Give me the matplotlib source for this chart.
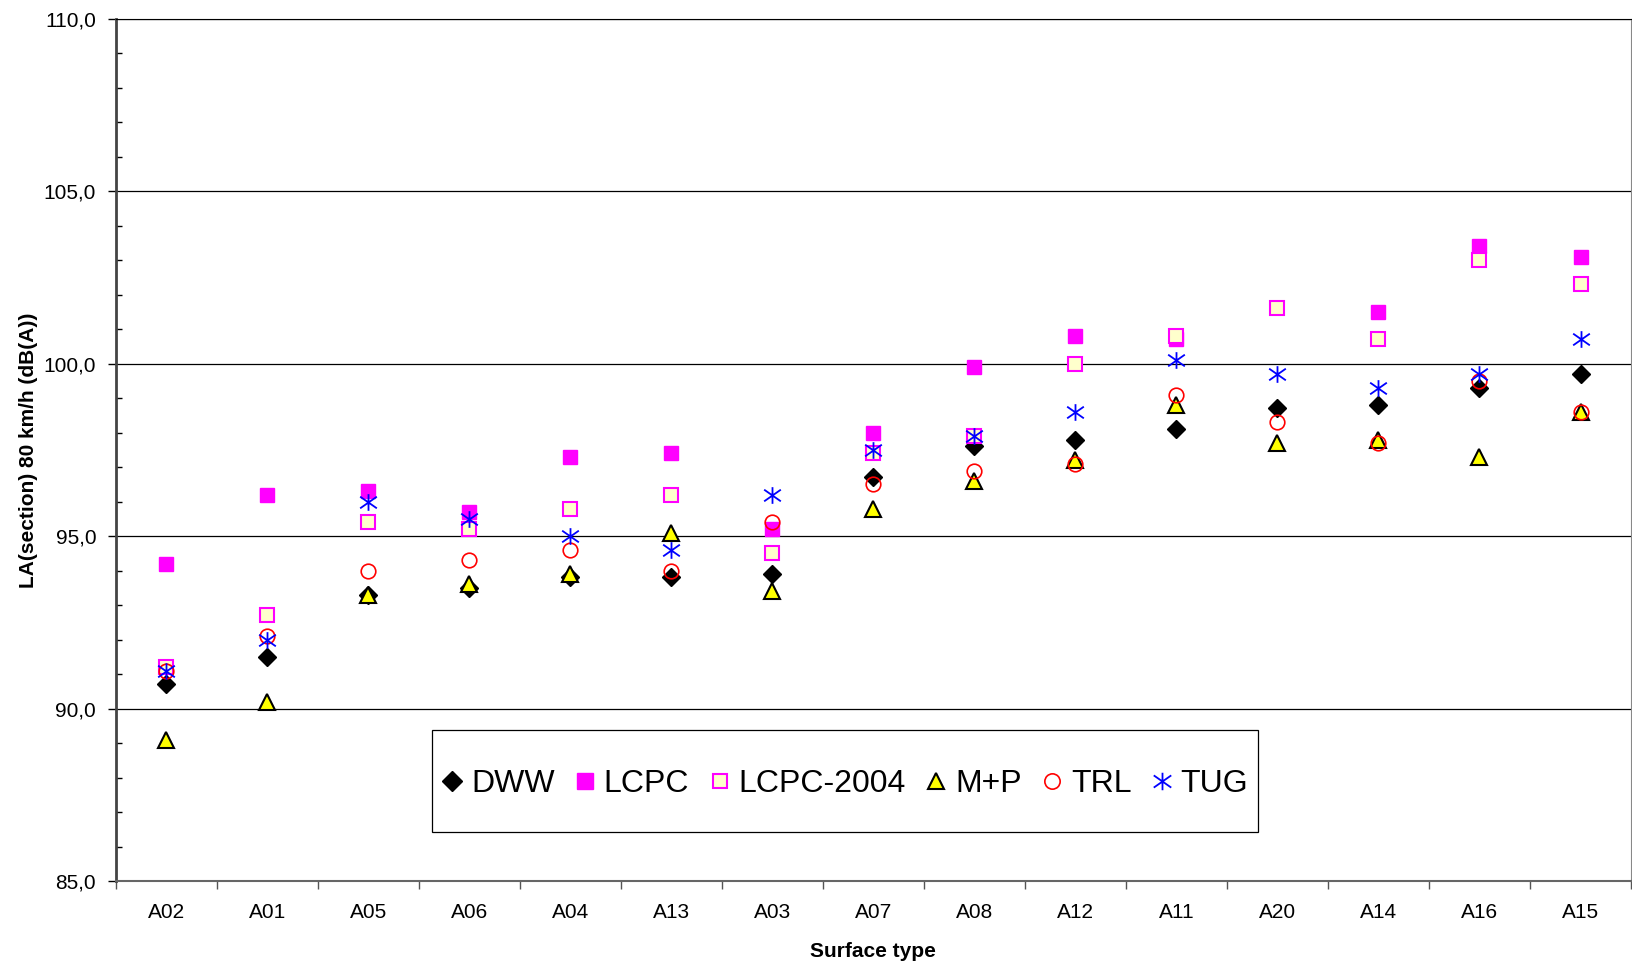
import matplotlib.pyplot as plt
from matplotlib.path import Path
from matplotlib.patches import Rectangle
from matplotlib.ticker import MultipleLocator, FixedLocator, FuncFormatter
import numpy as np

plt.rcParams['font.family'] = ['Liberation Sans', 'DejaVu Sans']

# surface types along the x axis
surfaces = ['A02', 'A01', 'A05', 'A06', 'A04', 'A13', 'A03', 'A07',
            'A08', 'A12', 'A11', 'A20', 'A14', 'A16', 'A15']

# LA(section) 80 km/h per institute
dww = [90.7, 91.5, 93.3, 93.5, 93.8, 93.8, 93.9, 96.7, 97.6, 97.8, 98.1, 98.7, 98.8, 99.3, 99.7]
lcpc = [94.2, 96.2, 96.3, 95.7, 97.3, 97.4, 95.2, 98.0, 99.9, 100.8, 100.7, np.nan, 101.5, 103.4, 103.1]
lcpc_2004 = [91.2, 92.7, 95.4, 95.2, 95.8, 96.2, 94.5, 97.4, 97.9, 100.0, 100.8, 101.6, 100.7, 103.0, 102.3]
mp = [89.1, 90.2, 93.3, 93.6, 93.9, 95.1, 93.4, 95.8, 96.6, 97.2, 98.8, 97.7, 97.8, 97.3, 98.6]
trl = [91.1, 92.1, 94.0, 94.3, 94.6, 94.0, 95.4, 96.5, 96.9, 97.1, 99.1, 98.3, 97.7, 99.5, 98.6]
tug = [91.1, 92.0, 96.0, 95.5, 95.0, 94.6, 96.2, 97.5, 97.9, 98.6, 100.1, 99.7, 99.3, 99.7, 100.7]

# Excel style star: vertical bar plus an X
star = Path([(0, -1), (0, 1), (-1, -0.7), (1, 0.7), (-1, 0.7), (1, -0.7)],
            [Path.MOVETO, Path.LINETO, Path.MOVETO, Path.LINETO, Path.MOVETO, Path.LINETO])

fig = plt.figure(figsize=(16.33, 9.63), dpi=100)
ax = fig.add_axes([0.0708, 0.0851, 0.928, 0.8955])

x = np.arange(len(surfaces))
ax.plot(x, dww, ls='none', marker='D', ms=9.5, mfc='black', mec='black', label='DWW')
ax.plot(x, lcpc, ls='none', marker='s', ms=10.5, mfc='#ff00ff', mec='#ff00ff', label='LCPC')
ax.plot(x, lcpc_2004, ls='none', marker='s', ms=10, mfc='#ffffcc', mec='#ff00ff', mew=1.5, label='LCPC-2004')
ax.plot(x, mp, ls='none', marker='^', ms=11.5, mfc='#ffff00', mec='black', mew=1.5, label='M+P')
ax.plot(x, trl, ls='none', marker='o', ms=10.5, mfc='none', mec='red', mew=1.2, label='TRL')
ax.plot(x, tug, ls='none', marker=star, ms=12, mfc='none', mec='blue', mew=1.3, label='TUG')

ax.set_xlim(-0.5, len(surfaces) - 0.5)
ax.set_ylim(85, 110)
ax.yaxis.set_major_locator(MultipleLocator(5))
ax.yaxis.set_minor_locator(MultipleLocator(1))
ax.yaxis.set_major_formatter(FuncFormatter(lambda v, p: f'{v:.1f}'.replace('.', ',')))
ax.grid(axis='y', which='major', color='black', lw=0.9)
ax.set_axisbelow(True)

ax.set_xticks(x)
ax.set_xticklabels(surfaces)
ax.xaxis.set_minor_locator(FixedLocator(np.arange(-0.5, len(surfaces), 1)))
ax.tick_params(axis='x', which='major', length=0, pad=16, labelsize=15)
ax.tick_params(axis='x', which='minor', length=6, width=1, color='#555555', direction='out')
ax.tick_params(axis='y', which='major', length=6, width=1, direction='out', pad=8, labelsize=15)
ax.tick_params(axis='y', which='minor', length=4, width=1, direction='in')

for s in ['top', 'right']:
    ax.spines[s].set_color('#888888')
    ax.spines[s].set_linewidth(0.8)
ax.spines['top'].set_color('black')
ax.spines['left'].set_color('#444444')
ax.spines['left'].set_linewidth(2)
ax.spines['bottom'].set_color('#666666')
ax.spines['bottom'].set_linewidth(1.5)

ax.set_xlabel('Surface type', fontsize=15, fontweight='bold', labelpad=14)
ax.set_ylabel('LA(section) 80 km/h (dB(A))', fontsize=15, fontweight='bold', labelpad=4)

# legend box drawn separately (Excel box has more vertical than horizontal padding)
ax.add_patch(Rectangle((0.2089, 0.0566), 0.5451, 0.1184, transform=ax.transAxes,
                       facecolor='white', edgecolor='black', lw=0.9, zorder=4))
leg = ax.legend(loc='center', bbox_to_anchor=(0.4805, 0.1125),
                ncol=6, fontsize=23, frameon=False, borderpad=0,
                borderaxespad=0, handletextpad=0.19, columnspacing=0.55,
                handlelength=0.8, markerscale=1.05)
leg.set_zorder(5)

fig.savefig('out.png', dpi=100)
